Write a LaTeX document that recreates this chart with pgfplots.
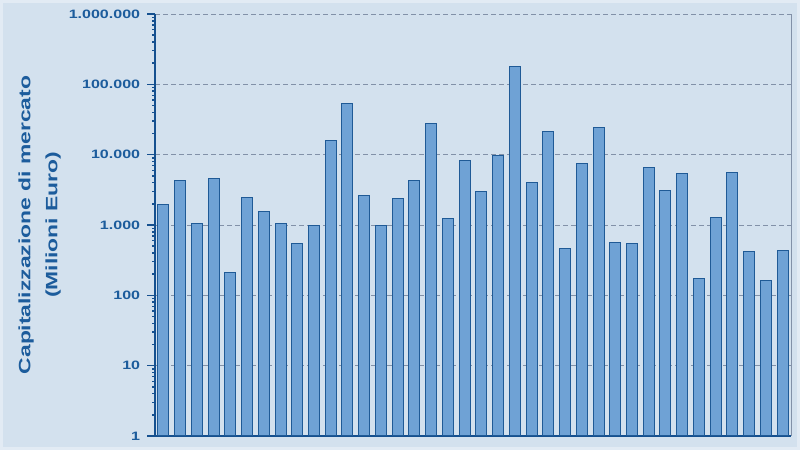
\documentclass[border=0pt]{standalone}
\usepackage{pgfplots}
\pgfplotsset{compat=1.18}
\usepackage{fontspec}
\setmainfont{Liberation Sans}

\definecolor{bgcol}{HTML}{D3E1EE}
\definecolor{framecol}{HTML}{E2EBF4}
\definecolor{barfill}{HTML}{6FA2D5}
\definecolor{baredge}{HTML}{1F5A96}
\definecolor{axiscol}{HTML}{15508F}
\definecolor{labcol}{HTML}{1C5C9C}
\definecolor{gridcol}{HTML}{8291A8}

\begin{document}
\begin{tikzpicture}[x=1bp,y=1bp]
  \path[use as bounding box] (0,0) rectangle (800,450);
  \fill[bgcol] (0,0) rectangle (800,450);
  \draw[framecol, line width=3bp] (1.5,1.5) rectangle (798.5,448.5);

  \begin{axis}[
      at={(155bp,14bp)}, anchor=south west,
      scale only axis,
      width=636bp, height=422bp,
      ymode=log,
      ymin=1, ymax=1000000,
      xmin=-0.5, xmax=37.5,
      enlarge x limits=false,
      ybar, bar width=11bp,
      axis x line*=bottom,
      axis y line*=left,
      x axis line style={axiscol, line width=1.4bp, -},
      y axis line style={axiscol, line width=2.4bp, -},
      xtick=\empty,
      ytick={1,10,100,1000,10000,100000,1000000},
      yticklabels={1,10,100,1.000,10.000,100.000,1.000.000},
      minor ytick={},
      tick align=outside,
      major tick length=8bp,
      ytick style={axiscol, line width=1.4bp},
      yticklabel style={font=\bfseries\fontsize{12.2}{14}\selectfont, text=labcol, xscale=1.32, anchor=east, inner sep=0pt, xshift=-5bp},
      ymajorgrids,
      grid style={gridcol, line width=0.9bp, dash pattern=on 5bp off 3bp},
      ylabel={\scalebox{1.39}[1]{\begin{tabular}{@{}c@{}}Capitalizzazione di mercato\\(Milioni Euro)\end{tabular}}},
      ylabel style={at={(axis description cs:-0.1832,0.5)}, anchor=center,
                    font=\bfseries\fontsize{16.5}{27}\selectfont, text=labcol},
      clip=false,
    ]
    \addplot[fill=barfill, draw=baredge, line width=1bp] coordinates {
      (0,1970) (1,4360) (2,1045) (3,4560) (4,212) (5,2480) (6,1550) (7,1045)
      (8,543) (9,968) (10,15800) (11,52600) (12,2610) (13,990) (14,2370)
      (15,4360) (16,27900) (17,1230) (18,8320) (19,2945) (20,9800)
      (21,176500) (22,3960) (23,21500) (24,460) (25,7450) (26,24500)
      (27,561) (28,549) (29,6610) (30,3110) (31,5370) (32,173) (33,1285)
      (34,5490) (35,423) (36,160) (37,427)
    };
    \draw[gridcol, line width=0.9bp] (rel axis cs:1,0) -- (rel axis cs:1,1);
  \end{axis}
\end{tikzpicture}
\end{document}
